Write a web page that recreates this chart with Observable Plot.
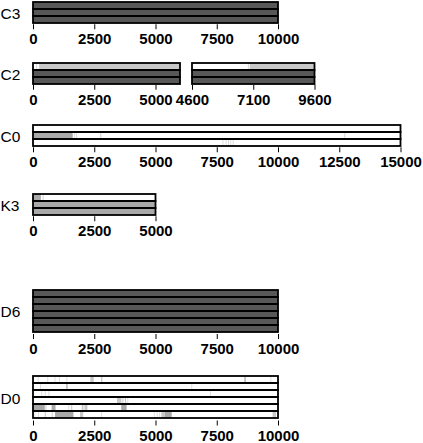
<!DOCTYPE html>
<html><head><meta charset="utf-8">
<script src="https://cdn.jsdelivr.net/npm/d3@7"></script>
<script src="https://cdn.jsdelivr.net/npm/@observablehq/plot@0.6"></script>
<style>
body{margin:0;background:#fff;}
#chart{position:relative;width:423px;height:443px;overflow:hidden;background:#fff;}
#chart svg{position:absolute;left:0;top:0;}
</style></head><body><div id="chart"></div>
<script>
// ---- data ----
const panelNames = ["C3", "C2", "C0", "K3", "D6", "D0"];
const rowCounts = {C3: 3, C2: 3, C0: 3, K3: 3, D6: 6, D0: 6};

const c3Domain = [0, 10000];
const c2LeftDomain = [0, 6000];
const c2RightDomain = [4600, 9600];
const c0Domain = [0, 15000];
const k3Domain = [0, 5000];
const d6Domain = [0, 10000];
const d0Domain = [0, 10000];

const c3Ticks = [0, 2500, 5000, 7500, 10000];
const c2LeftTicks = [0, 2500, 5000];
const c2RightTicks = [4600, 7100, 9600];
const c0Ticks = [0, 2500, 5000, 7500, 10000, 12500, 15000];
const k3Ticks = [0, 2500, 5000];
const d6Ticks = [0, 2500, 5000, 7500, 10000];
const d0Ticks = [0, 2500, 5000, 7500, 10000];

// segments: [row, start, end, level]  (level 1 = faint ... 4 = dark)
const c3Segments = [[1, 0, 10000, 4], [2, 0, 10000, 4], [3, 0, 10000, 4]];
const c2LeftSegments = [[1, 250, 6000, 2], [1, 120, 170, 1], [2, 0, 6000, 4], [3, 0, 6000, 4]];
const c2RightSegments = [[1, 6960, 9600, 2], [1, 6880, 6930, 1], [2, 4600, 9600, 4], [3, 4600, 9600, 4]];
const c0Segments = [
  [2, 0, 1620, 3], [2, 1680, 1720, 1], [2, 1760, 1800, 1], [2, 2730, 2790, 1], [2, 12700, 12750, 1],
  [3, 7730, 7770, 1], [3, 7860, 7900, 1], [3, 7960, 8000, 1], [3, 8050, 8090, 1], [3, 8150, 8190, 1]
];
const k3Segments = [[1, 0, 320, 3], [1, 390, 440, 1], [2, 0, 5000, 3], [3, 0, 5000, 3]];
const d6Segments = [[1, 0, 10000, 4], [2, 0, 10000, 4], [3, 0, 10000, 4], [4, 0, 10000, 4], [5, 0, 10000, 4], [6, 0, 10000, 4]];
const d0Segments = [
  [1, 190, 230, 1], [1, 580, 620, 1], [1, 880, 920, 1], [1, 1060, 1100, 1], [1, 1360, 1400, 1],
  [1, 2340, 2480, 2], [1, 2780, 2830, 2], [1, 8630, 8680, 3], [1, 9690, 9730, 1],
  [2, 290, 330, 1], [2, 1360, 1410, 3], [2, 6460, 6500, 1],
  [3, 340, 380, 1], [3, 480, 520, 1], [3, 630, 670, 1], [3, 7220, 7260, 1],
  [4, 3430, 3600, 2], [4, 3620, 3700, 1], [4, 3750, 3800, 2], [4, 3850, 3890, 1],
  [5, 0, 480, 3], [5, 500, 560, 1], [5, 760, 920, 3], [5, 1440, 1480, 1], [5, 1560, 1600, 2],
  [5, 1990, 2060, 2], [5, 2100, 2220, 2], [5, 3600, 3820, 3],
  [6, 60, 100, 1], [6, 200, 240, 1], [6, 480, 520, 2], [6, 760, 820, 1], [6, 900, 1650, 3],
  [6, 1920, 2050, 2], [6, 2780, 2820, 1], [6, 4930, 4970, 1], [6, 5050, 5090, 1], [6, 5150, 5190, 1],
  [6, 5240, 5380, 2], [6, 5380, 5660, 3], [6, 9780, 9920, 2]
];

// ---- layout ----
const shades = ["#dedede", "#c8c8c8", "#a9a9a9", "#585858"];
const W = 423, H = 443, rowH = 7.75, pxPer1000 = 24.5, left0 = 33;
const chart = document.getElementById("chart");

function panel({name, rows, domain, xStart, top, ticks, segments}) {
  const right = xStart + (domain[1] - domain[0]) / 1000 * pxPer1000;
  const bottom = top + rows * rowH;
  const rowData = d3.range(1, rows + 1).map(r => ({row: r, x1: domain[0], x2: domain[1]}));
  const segs = segments.map(([row, x1, x2, level]) => ({row, x1, x2, level}));
  const svg = Plot.plot({
    width: W, height: H,
    marginLeft: xStart, marginRight: W - right,
    marginTop: top, marginBottom: H - bottom,
    style: {background: "transparent", fontFamily: "'Liberation Sans', Arial, sans-serif", overflow: "visible", color: "black"},
    x: {domain},
    y: {type: "band", domain: d3.range(1, rows + 1), padding: 0, axis: null},
    color: {type: "ordinal", domain: [1, 2, 3, 4], range: shades},
    marks: [
      Plot.barX(rowData, {x1: "x1", x2: "x2", y: "row", fill: "white"}),
      Plot.barX(segs, {x1: "x1", x2: "x2", y: "row", fill: "level"}),
      Plot.barX(rowData, {x1: "x1", x2: "x2", y: "row", fill: "none", stroke: "black", strokeWidth: 1.8}),
      Plot.axisX({ticks, tickSize: 5, tickPadding: 4, tickFormat: d => String(d), fontSize: 15, fontWeight: "bold", strokeWidth: 1}),
      name ? Plot.text([name], {text: d => d, frameAnchor: "left", dx: -xStart, dy: 1, textAnchor: "start", fontSize: 15.5}) : null
    ]
  });
  chart.appendChild(svg);
}

panel({name: panelNames[0], rows: rowCounts.C3, domain: c3Domain, xStart: left0, top: 1, ticks: c3Ticks, segments: c3Segments});
panel({name: panelNames[1], rows: rowCounts.C2, domain: c2LeftDomain, xStart: left0, top: 61.5, ticks: c2LeftTicks, segments: c2LeftSegments});
panel({name: null, rows: rowCounts.C2, domain: c2RightDomain, xStart: 192, top: 61.5, ticks: c2RightTicks, segments: c2RightSegments});
panel({name: panelNames[2], rows: rowCounts.C0, domain: c0Domain, xStart: left0, top: 124, ticks: c0Ticks, segments: c0Segments});
panel({name: panelNames[3], rows: rowCounts.K3, domain: k3Domain, xStart: left0, top: 193, ticks: k3Ticks, segments: k3Segments});
panel({name: panelNames[4], rows: rowCounts.D6, domain: d6Domain, xStart: left0, top: 287.5, ticks: d6Ticks, segments: d6Segments});
panel({name: panelNames[5], rows: rowCounts.D0, domain: d0Domain, xStart: left0, top: 374, ticks: d0Ticks, segments: d0Segments});
</script></body></html>
